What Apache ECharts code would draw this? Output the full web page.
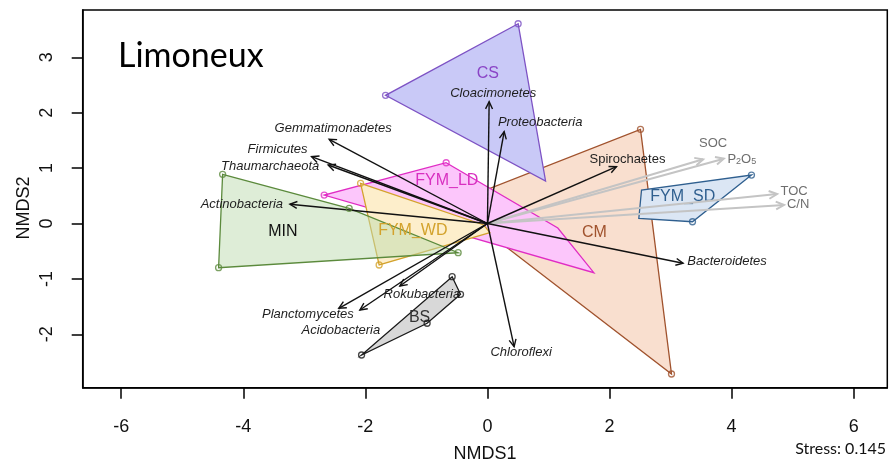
<!DOCTYPE html>
<html>
<head>
<meta charset="utf-8">
<script src="https://cdn.jsdelivr.net/npm/echarts@6/dist/echarts.min.js"></script>
<style>
  html, body { margin: 0; padding: 0; background: #fff; }
  #chart { width: 890px; height: 461px; }
</style>
</head>
<body>
<div id="chart"></div>
<script>
// NMDS ordination of soil bacterial communities, site "Limoneux"
const xTicks = [-6, -4, -2, 0, 2, 4, 6];
const yTicks = [-2, -1, 0, 1, 2, 3];

// Convex hulls of each treatment (NMDS1, NMDS2), in drawing order
const groupNames = ['CM', 'CS', 'FYM_LD', 'FYM_WD', 'MIN', 'FYM_SD', 'BS'];
const hullCM    = [[2.507, 1.700], [3.015, -2.717], [-0.608, 0.354]];
const hullCS    = [[0.503, 3.606], [-1.669, 2.314], [0.952, 0.767]];
const hullFYMLD = [[-0.676, 1.097], [1.153, -0.081], [1.743, -0.888], [-2.674, 0.514]];
const hullFYMWD = [[-2.078, 0.726], [-0.059, -0.027], [0.039, -0.166], [-1.774, -0.749]];
const hullMIN   = [[-4.338, 0.888], [-2.265, 0.274], [-0.480, -0.527], [-4.404, -0.798]];
const hullFYMSD = [[4.325, 0.875], [3.359, 0.032], [2.480, 0.094], [2.524, 0.605]];
const hullBS    = [[-0.578, -0.960], [-0.441, -1.278], [-0.988, -1.801], [-2.062, -2.374]];

// Sample scores shown as open circles
const sitesCM    = [[2.507, 1.700], [3.015, -2.717]];
const sitesCS    = [[0.503, 3.606], [-1.669, 2.314]];
const sitesFYMLD = [[-0.676, 1.097], [-2.674, 0.514]];
const sitesFYMWD = [[-2.078, 0.726], [-1.774, -0.749]];
const sitesMIN   = [[-4.338, 0.888], [-2.265, 0.274], [-0.480, -0.527], [-4.404, -0.798]];
const sitesFYMSD = [[4.325, 0.875], [3.359, 0.032]];
const sitesBS    = [[-0.578, -0.960], [-0.441, -1.278], [-0.988, -1.801], [-2.062, -2.374]];

// Group centroids (where treatment names are printed)
const groupCentres = [[1.751, -0.159], [0.007, 2.711], [-0.665, 0.767], [-1.222, -0.135],
                      [-3.351, -0.153], [3.200, 0.478], [-1.112, -1.693]];

// Phylum vectors (envfit)
const phylumNames = ['Cloacimonetes', 'Proteobacteria', 'Gemmatimonadetes', 'Firmicutes',
  'Thaumarchaeota', 'Actinobacteria', 'Spirochaetes', 'Bacteroidetes', 'Chloroflexi',
  'Rokubacteria', 'Planctomycetes', 'Acidobacteria'];
const phylumX = [0.028, 0.274, -2.593, -2.881, -2.609, -3.236, 2.114, 3.205, 0.437, -1.435, -2.434, -2.090];
const phylumY = [2.199, 1.657, 1.520, 1.206, 1.056, 0.347, 1.025, -0.718, -2.224, -1.128, -1.531, -1.561];

// Soil property vectors (envfit)
const soilNames = ['SOC', 'P2O5', 'TOC', 'C/N'];
const soilX = [3.533, 3.872, 4.745, 4.859];
const soilY = [1.159, 1.170, 0.532, 0.334];

const stressValue = 0.145;

// ---- styling ----
const FONT = '"Liberation Sans", Arial, sans-serif';
const groupStyle = {
  CM:     { fill: '#f9dfcf', stroke: '#a0522d', text: '#a0522d' },
  CS:     { fill: '#c9c9f7', stroke: '#7d52c4', text: '#8a44c6' },
  FYM_LD: { fill: '#fcc6fb', stroke: '#e02cc4', text: '#d830c0' },
  FYM_WD: { fill: '#fdeecb', stroke: '#d3a22c', text: '#d3a22c' },
  MIN:    { fill: 'rgba(190,220,175,0.5)', stroke: '#5b8a3c', text: '#111111' },
  FYM_SD: { fill: '#dbe6f4', stroke: '#2f5f8f', text: '#2f5f8f' },
  BS:     { fill: '#d8d8d8', stroke: '#1a1a1a', text: '#333333' }
};
const hulls = [hullCM, hullCS, hullFYMLD, hullFYMWD, hullMIN, hullFYMSD, hullBS];
const sites = [sitesCM, sitesCS, sitesFYMLD, sitesFYMWD, sitesMIN, sitesFYMSD, sitesBS];

// label offsets from arrow tips, in pixels
const phylumLabelOffset = [[4, -8], [36, -9], [4, -11], [-34, -7], [-58, 1], [-48, 0],
  [11, -7], [44, -2], [7, 6], [22, 8], [-31, 6], [-19, 20]];
const phylumItalic = phylumNames.map(n => n !== 'Spirochaetes');
const soilLabelOffset = [[10, -16], [18, -1], [17, -3], [14, -1]];

function hullSeries(i) {
  const st = groupStyle[groupNames[i]];
  const hull = hulls[i];
  return {
    type: 'custom',
    name: groupNames[i],
    data: hull,
    encode: { x: 0, y: 1 },
    silent: true,
    renderItem: function (params, api) {
      if (params.dataIndex !== 0) return null;
      const pts = hull.map(p => api.coord(p));
      return {
        type: 'polygon',
        shape: { points: pts },
        style: { fill: st.fill, stroke: st.stroke, lineWidth: 1.3 }
      };
    }
  };
}

function siteSeries(i) {
  const st = groupStyle[groupNames[i]];
  return {
    type: 'scatter',
    data: sites[i],
    symbol: 'circle',
    symbolSize: 6,
    silent: true,
    itemStyle: { color: 'rgba(255,255,255,0)', borderColor: st.stroke, borderWidth: 1.3 }
  };
}

function arrowSeries(xs, ys, names, offsets, opts) {
  return {
    type: 'custom',
    data: xs.map((x, i) => [x, ys[i]]),
    encode: { x: 0, y: 1 },
    silent: true,
    renderItem: function (params, api) {
      const i = params.dataIndex;
      const o = api.coord([0, 0]);
      const t = api.coord([api.value(0), api.value(1)]);
      const ang = Math.atan2(t[1] - o[1], t[0] - o[0]);
      const h = opts.head, a = Math.PI / 7;
      const p1 = [t[0] - h * Math.cos(ang - a), t[1] - h * Math.sin(ang - a)];
      const p2 = [t[0] - h * Math.cos(ang + a), t[1] - h * Math.sin(ang + a)];
      const off = offsets[i];
      const label = opts.label(i);
      return {
        type: 'group',
        children: [
          { type: 'line', shape: { x1: o[0], y1: o[1], x2: t[0], y2: t[1] },
            style: { stroke: opts.color, lineWidth: opts.width } },
          { type: 'polyline', shape: { points: [p1, t, p2] },
            style: { stroke: opts.color, lineWidth: opts.width, fill: null } },
          { type: 'text', z2: 10,
            style: Object.assign({
              x: t[0] + off[0], y: t[1] + off[1],
              align: 'center', verticalAlign: 'middle',
              textAlign: 'center', textVerticalAlign: 'middle'
            }, label) }
        ]
      };
    }
  };
}

const series = [];
for (let i = 0; i < groupNames.length; i++) series.push(hullSeries(i));
for (let i = 0; i < groupNames.length; i++) series.push(siteSeries(i));

// treatment names
series.push({
  type: 'custom',
  data: groupCentres,
  encode: { x: 0, y: 1 },
  silent: true,
  renderItem: function (params, api) {
    const c = api.coord([api.value(0), api.value(1)]);
    const st = groupStyle[groupNames[params.dataIndex]];
    return {
      type: 'text',
      style: {
        text: groupNames[params.dataIndex], x: c[0], y: c[1],
        align: 'center', verticalAlign: 'middle',
        textAlign: 'center', textVerticalAlign: 'middle',
        font: '16px ' + FONT, fill: st.text
      }
    };
  }
});

// soil property vectors (grey)
series.push(arrowSeries(soilX, soilY, soilNames, soilLabelOffset, {
  color: '#c4c4c4', width: 2, head: 9,
  label: function (i) {
    if (soilNames[i] === 'P2O5') {
      return {
        text: '{m|P}{s|2}{m|O}{s|5}',
        rich: {
          m: { fontSize: 13, fontFamily: FONT, fill: '#6e6e6e', lineHeight: 16, verticalAlign: 'bottom' },
          s: { fontSize: 9, fontFamily: FONT, fill: '#6e6e6e', lineHeight: 10, verticalAlign: 'bottom' }
        }
      };
    }
    return { text: soilNames[i], font: '13px ' + FONT, fill: '#6e6e6e' };
  }
}));

// phylum vectors (black)
series.push(arrowSeries(phylumX, phylumY, phylumNames, phylumLabelOffset, {
  color: '#111111', width: 1.4, head: 8,
  label: function (i) {
    return { text: phylumNames[i], font: (phylumItalic[i] ? 'italic ' : '') + '13px ' + FONT, fill: '#1e1e1e' };
  }
}));

const chart = echarts.init(document.getElementById('chart'), null, { renderer: 'canvas' });
chart.setOption({
  animation: false,
  backgroundColor: '#ffffff',
  grid: { left: 82.7, right: 2.7, top: 10, bottom: 73.3, show: true,
          outerBoundsMode: 'none', containLabel: false,
          borderColor: '#000', borderWidth: 1.5, backgroundColor: 'transparent' },
  xAxis: {
    type: 'value', min: -6.63, max: 6.55,
    name: 'NMDS1', nameLocation: 'middle', nameGap: 57,
    nameTextStyle: { fontFamily: FONT, fontSize: 18, color: '#111' },
    axisLine: { show: true, onZero: false, lineStyle: { color: '#000', width: 1.5 } },
    axisTick: { show: true, length: 11, customValues: xTicks, lineStyle: { color: '#000', width: 1.5 } },
    axisLabel: { customValues: xTicks, margin: 30, fontFamily: FONT, fontSize: 18, color: '#111' },
    splitLine: { show: false }
  },
  yAxis: {
    type: 'value', min: -2.964, max: 3.854,
    axisLine: { show: true, onZero: false, lineStyle: { color: '#000', width: 1.5 } },
    axisTick: { show: true, length: 11, customValues: yTicks, lineStyle: { color: '#000', width: 1.5 } },
    axisLabel: { customValues: yTicks, rotate: 90, margin: 27, fontFamily: FONT, fontSize: 18, color: '#111' },
    splitLine: { show: false }
  },
  graphic: [
    { type: 'text', left: 118, top: 39, z: 100,
      style: { text: 'Limoneux', font: '34px Lato, "Open Sans", sans-serif', fill: '#000' } },
    { type: 'text', x: 24, y: 208, rotation: Math.PI / 2, z: 100,
      style: { text: 'NMDS2', font: '18px ' + FONT, fill: '#111', align: 'center', verticalAlign: 'middle' } },
    { type: 'text', right: 4, top: 441, z: 100,
      style: { text: 'Stress: ' + stressValue, font: '16px Lato, "Open Sans", sans-serif', fill: '#111' } }
  ],
  series: series
});
</script>
</body>
</html>
